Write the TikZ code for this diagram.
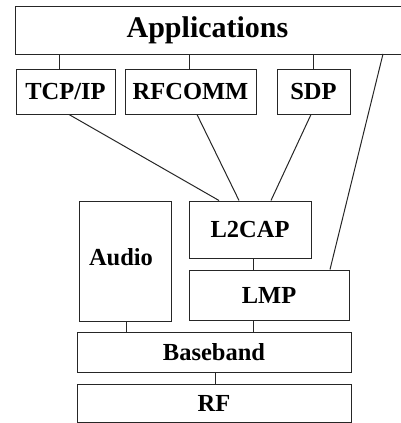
\documentclass[tikz,border=0pt]{standalone}
\usepackage{fontspec}
\setmainfont{Liberation Serif}
\begin{document}
\begin{tikzpicture}[x=1pt,y=-1pt,
  line width=1pt,
  box/.style={draw=black!85, rectangle, inner sep=0pt, font=\bfseries\fontsize{24.5}{27}\selectfont},
  conn/.style={draw=black!85}]
\useasboundingbox (0,0) rectangle (401,423);
% Applications box (right edge outside picture)
\node[draw=none, rectangle, inner sep=0pt, minimum width=385pt, minimum height=47pt] (app) at (208.5,30.5) {};
\node[font=\bfseries\fontsize{30}{33}\selectfont, inner sep=0pt] (apptext) at (207.5,30.5) {Applications};
\draw[draw=black!85] (app.north east) -- (app.north west) -- (app.south west) -- (app.south east);
\node[box, minimum width=99pt, minimum height=45pt] (tcp) at (65.5,91.5) {TCP/IP};
\node[box, minimum width=131pt, minimum height=45pt] (rfc) at (190.5,91.5) {RFCOMM};
\node[box, minimum width=73pt, minimum height=45pt] (sdp) at (313.5,91.5) {SDP};
\node[box, minimum width=122pt, minimum height=57pt] (l2) at (250,229.5) {L2CAP};
\node[box, minimum width=92pt, minimum height=120pt] (audio) at (125,261) {};
\node[font=\bfseries\fontsize{24.5}{27}\selectfont, inner sep=0pt] (audiotext) at (121,257) {Audio};
\node[box, minimum width=160pt, minimum height=50pt] (lmp) at (269,295) {LMP};
\node[box, minimum width=274pt, minimum height=40pt] (bb) at (214,352) {Baseband};
\node[box, minimum width=274pt, minimum height=38pt] (rf) at (214,403) {RF};
% connectors
\draw[conn] ([xshift=-6.5pt]tcp.north |- app.south) -- ([xshift=-6.5pt]tcp.north);
\draw[conn] ([xshift=-1.5pt]rfc.north |- app.south) -- ([xshift=-1.5pt]rfc.north);
\draw[conn] ([xshift=-0.5pt]sdp.north |- app.south) -- ([xshift=-0.5pt]sdp.north);
\draw[conn] ([xshift=3.5pt]tcp.south) -- ([xshift=-31pt]l2.north);
\draw[conn] ([xshift=6.5pt]rfc.south) -- ([xshift=-11pt]l2.north);
\draw[conn] ([xshift=-2.5pt]sdp.south) -- ([xshift=21pt]l2.north);
\coordinate (appr) at (383,54);
\draw[conn] (appr) -- ([xshift=61pt]lmp.north);
\draw[conn] ([xshift=3pt]l2.south) -- ([xshift=3pt]l2.south |- lmp.north);
\draw[conn] ([xshift=1pt]audio.south) -- ([xshift=1pt]audio.south |- bb.north);
\draw[conn] ([xshift=-16pt]lmp.south) -- ([xshift=-16pt]lmp.south |- bb.north);
\draw[conn] ([xshift=1pt]bb.south) -- ([xshift=1pt]rf.north);
\end{tikzpicture}
\end{document}
